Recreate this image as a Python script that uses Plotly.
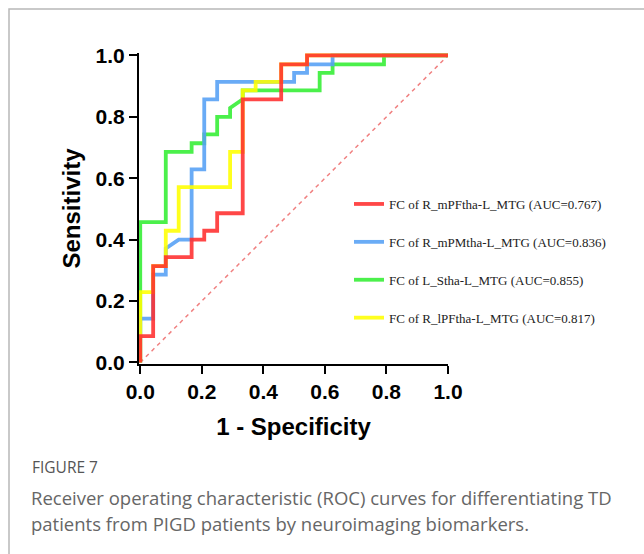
import plotly.graph_objects as go

# ---- data ----
red_fpr = [0, 0, 0.042, 0.042, 0.083, 0.083, 0.167, 0.167, 0.208, 0.208, 0.25, 0.25,
           0.333, 0.333, 0.458, 0.458, 0.542, 0.542, 1.0]
red_tpr = [0, 0.086, 0.086, 0.314, 0.314, 0.343, 0.343, 0.4, 0.4, 0.429, 0.429, 0.486,
           0.486, 0.857, 0.857, 0.971, 0.971, 1.0, 1.0]

blue_fpr = [0, 0, 0.042, 0.042, 0.083, 0.083, 0.125, 0.167, 0.167, 0.208, 0.208, 0.25,
            0.25, 0.5, 0.5, 0.542, 0.542, 0.625, 0.625, 1.0]
blue_tpr = [0, 0.143, 0.143, 0.286, 0.286, 0.371, 0.4, 0.4, 0.629, 0.629, 0.857, 0.857,
            0.914, 0.914, 0.943, 0.943, 0.971, 0.971, 1.0, 1.0]

green_fpr = [0, 0, 0.083, 0.083, 0.167, 0.167, 0.208, 0.208, 0.25, 0.25, 0.292, 0.292,
             0.333, 0.333, 0.583, 0.583, 0.625, 0.625, 0.792, 0.792, 1.0]
green_tpr = [0, 0.457, 0.457, 0.686, 0.686, 0.714, 0.714, 0.743, 0.743, 0.8, 0.8, 0.829,
             0.857, 0.886, 0.886, 0.943, 0.943, 0.971, 0.971, 1.0, 1.0]

yellow_fpr = [0, 0, 0.042, 0.042, 0.083, 0.083, 0.125, 0.125, 0.292, 0.292, 0.333, 0.333,
              0.375, 0.375, 0.458, 0.458, 0.542, 0.542, 1.0]
yellow_tpr = [0, 0.229, 0.229, 0.314, 0.314, 0.429, 0.429, 0.571, 0.571, 0.686, 0.686, 0.886,
              0.886, 0.914, 0.914, 0.971, 0.971, 1.0, 1.0]

ref_x = [0, 1]
ref_y = [0, 1]

series_names = [
    "FC of R_mPFtha-L_MTG (AUC=0.767)",
    "FC of R_mPMtha-L_MTG (AUC=0.836)",
    "FC of L_Stha-L_MTG (AUC=0.855)",
    "FC of R_lPFtha-L_MTG (AUC=0.817)",
]
tick_vals = [0, 0.2, 0.4, 0.6, 0.8, 1.0]
tick_text = ["0.0", "0.2", "0.4", "0.6", "0.8", "1.0"]

caption_label = "FIGURE 7"
caption_lines = [
    "Receiver operating characteristic (ROC) curves for differentiating TD",
    "patients from PIGD patients by neuroimaging biomarkers.",
]

# ---- layout geometry (pixels) ----
W, H = 644, 554
ML, MR, MT, MB = 139, 196, 53, 190
PW = W - ML - MR
PH = H - MT - MB


def px_x(px):
    return (px - ML) / PW


def px_y(py):
    return (H - MB - py) / PH


fig = go.Figure()

fig.add_trace(go.Scatter(x=ref_x, y=ref_y, mode="lines", showlegend=False,
                         line=dict(color="#F08080", width=1.5, dash="4px,4px"),
                         hoverinfo="skip"))

styles = [
    (green_fpr, green_tpr, series_names[2], "#33EE33", 3),
    (blue_fpr, blue_tpr, series_names[1], "#55A0F5", 2),
    (yellow_fpr, yellow_tpr, series_names[3], "#FFFF00", 4),
    (red_fpr, red_tpr, series_names[0], "#FF2E2E", 1),
]
for xs, ys, name, color, rank in styles:
    fig.add_trace(go.Scatter(x=xs, y=ys, mode="lines", name=name,
                             line=dict(color=color, width=3.8),
                             opacity=0.88, legendrank=rank,
                             legendgroup=name))

axis_common = dict(
    showline=True, linecolor="black", linewidth=2,
    ticks="outside", ticklen=8, tickwidth=2, tickcolor="black",
    tickvals=tick_vals, ticktext=tick_text,
    tickfont=dict(family="Liberation Sans, Arial", size=21, color="black", weight="bold"),
    showgrid=False, zeroline=False, mirror=False,
)

fig.update_xaxes(range=[-0.004, 1.0], automargin=False,
                 title=dict(text="1 - Specificity", standoff=16,
                            font=dict(family="Liberation Sans, Arial", size=24,
                                      color="black", weight="bold")),
                 **axis_common)
fig.update_yaxes(range=[-0.005, 1.008], automargin=False,
                 title=dict(text="Sensitivity", standoff=8,
                            font=dict(family="Liberation Sans, Arial", size=24,
                                      color="black", weight="bold")),
                 **axis_common)

fig.update_layout(
    width=W, height=H,
    margin=dict(l=ML, r=MR, t=MT, b=MB, autoexpand=False),
    paper_bgcolor="white", plot_bgcolor="white",
    showlegend=True,
    legend=dict(x=px_x(349), y=px_y(189), xanchor="left", yanchor="top",
                bgcolor="rgba(0,0,0,0)", borderwidth=0,
                font=dict(family="Liberation Serif, Times New Roman", size=13, color="#222"),
                tracegroupgap=18, traceorder="grouped"),
)

# outer frame (light grey border of the figure panel)
fig.add_shape(type="rect", xref="paper", yref="paper",
              x0=px_x(9), y0=px_y(9), x1=px_x(700), y1=px_y(620),
              line=dict(color="#B8B8B8", width=1.5), fillcolor="rgba(0,0,0,0)",
              layer="below")

fig.add_annotation(xref="paper", yref="paper", x=px_x(30), y=px_y(467),
                   xanchor="left", yanchor="middle", showarrow=False,
                   text=caption_label,
                   font=dict(family="Open Sans", size=15.5, color="#555555"))
for i, line in enumerate(caption_lines):
    fig.add_annotation(xref="paper", yref="paper", x=px_x(29), y=px_y(497 + 26 * i),
                       xanchor="left", yanchor="middle", showarrow=False,
                       text=line,
                       font=dict(family="Open Sans", size=18.5, color="#666666"))

fig.write_html("out.html")
